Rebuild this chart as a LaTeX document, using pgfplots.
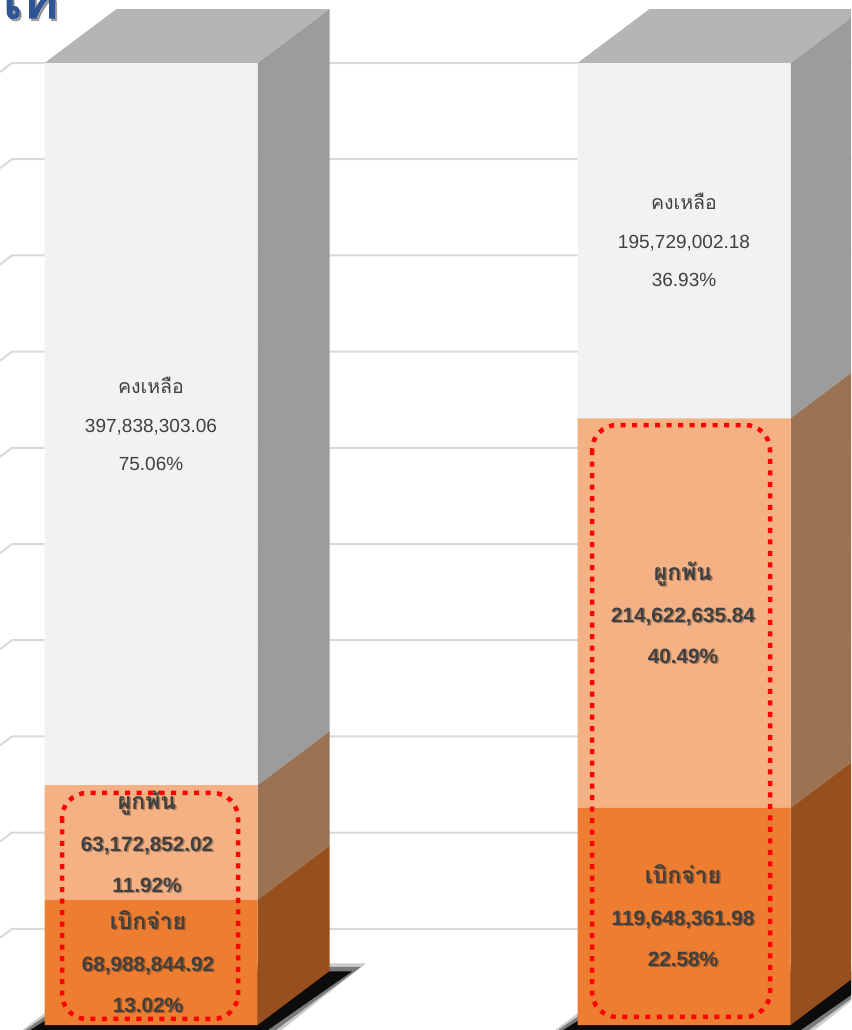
\documentclass[border=0pt]{standalone}
\usepackage{fontspec}
\setmainfont{Liberation Sans}
\newfontfamily\thai[Script=Thai]{Loma}
\newfontfamily\thaiheavy[Script=Thai, FakeBold=2.5]{Loma}
\usepackage{pgfplots}
\usepackage{pgfplotstable}
\pgfplotsset{compat=1.18}

\definecolor{remain}{HTML}{F2F2F2}
\definecolor{remainside}{HTML}{9C9C9C}
\definecolor{remaintop}{HTML}{B5B5B5}
\definecolor{commit}{HTML}{F4B183}
\definecolor{commitside}{HTML}{9B7252}
\definecolor{paid}{HTML}{ED7D31}
\definecolor{paidside}{HTML}{984F1E}
\definecolor{gridc}{HTML}{D9D9D9}
\definecolor{txt}{HTML}{404040}
\definecolor{titleblue}{HTML}{2F5597}

% values in million baht
\pgfplotstableread{
x   paid         commit       remain
151 68.98884492  63.17285202  397.83830306
684 119.64836198 214.62263584 195.72900218
}\budget

\pgfplotsset{base/.style={
  at={(0,0)}, anchor=south west,
  scale only axis, width=851pt, height=1030pt,
  xmin=0, xmax=851, ymin=-2.7547, ymax=564.7090,
  hide axis, clip=true}}

\tikzset{
  lbl/.style={text=txt, anchor=base, inner sep=0pt, font=\fontsize{19}{22}\selectfont},
  blbl/.style={text=txt, anchor=base, inner sep=0pt, font=\fontsize{20.7}{24}\selectfont\bfseries}}

\newcommand\normlabel[5]{%
  \node[lbl, yshift=31pt] at (axis cs:#1,#2) {\thai\fontsize{19.5}{22}\selectfont #3};
  \node[lbl, yshift=-8pt] at (axis cs:#1,#2) {#4};
  \node[lbl, yshift=-46pt] at (axis cs:#1,#2) {#5};}
\newcommand\bline[4]{%
  \node[blbl, text=black, opacity=.3, yshift=#3-1.5pt, xshift=1.5pt] at (axis cs:#1,#2) {#4};
  \node[blbl, yshift=#3] at (axis cs:#1,#2) {#4};}
\newcommand\boldlabel[5]{%
  \bline{#1}{#2}{33pt}{\thai\fontsize{23}{26}\selectfont #3}
  \bline{#1}{#2}{-9pt}{#4}
  \bline{#1}{#2}{-50pt}{#5}}

\begin{document}
\begin{tikzpicture}
\useasboundingbox (0,0) rectangle (851pt,1030pt);
\clip (0,0) rectangle (851pt,1030pt);

% background: gridlines, floor shadows, side and top faces
\begin{axis}[base]
\addplot[gridc, line width=2pt] coordinates {(0,48.04) (12,53) (851,53)};
\addplot[gridc, line width=2pt] coordinates {(0,101.04) (12,106) (851,106)};
\addplot[gridc, line width=2pt] coordinates {(0,154.04) (12,159) (851,159)};
\addplot[gridc, line width=2pt] coordinates {(0,207.04) (12,212) (851,212)};
\addplot[gridc, line width=2pt] coordinates {(0,260.04) (12,265) (851,265)};
\addplot[gridc, line width=2pt] coordinates {(0,313.04) (12,318) (851,318)};
\addplot[gridc, line width=2pt] coordinates {(0,366.04) (12,371) (851,371)};
\addplot[gridc, line width=2pt] coordinates {(0,419.04) (12,424) (851,424)};
\addplot[gridc, line width=2pt] coordinates {(0,472.04) (12,477) (851,477)};
\addplot[gridc, line width=2pt] coordinates {(0,525.04) (12,530) (851,530)};

% floor shadows
\addplot[fill=black, opacity=.2, draw=none] coordinates {(12,-7) (272,-7) (366,34) (112,34)} -- cycle;
\addplot[fill=black, opacity=.4, draw=none] coordinates {(17,-6) (268,-6) (361,32) (116,32)} -- cycle;
\addplot[fill=black, opacity=.9, draw=none] coordinates {(24,-5) (262,-5) (352,29.5) (122,29.5)} -- cycle;
\addplot[fill=black, opacity=.2, draw=none] coordinates {(545,-7) (805,-7) (899,34) (645,34)} -- cycle;
\addplot[fill=black, opacity=.4, draw=none] coordinates {(550,-6) (801,-6) (894,32) (649,32)} -- cycle;
\addplot[fill=black, opacity=.9, draw=none] coordinates {(557,-5) (795,-5) (885,29.5) (655,29.5)} -- cycle;

% side faces, left bar
\addplot[fill=paidside, draw=none] coordinates {(257.5,0) (329.5,29.75) (329.5,98.74) (257.5,68.99)} -- cycle;
\addplot[fill=commitside, draw=none] coordinates {(257.5,68.99) (329.5,98.74) (329.5,161.91) (257.5,132.16)} -- cycle;
\addplot[fill=remainside, draw=none] coordinates {(257.5,132.16) (329.5,161.91) (329.5,559.75) (257.5,530)} -- cycle;
\addplot[fill=remaintop, draw=none] coordinates {(44.5,530) (257.5,530) (329.5,559.75) (116.5,559.75)} -- cycle;
% side faces, right bar
\addplot[fill=paidside, draw=none] coordinates {(790.5,0) (862.5,29.75) (862.5,149.40) (790.5,119.65)} -- cycle;
\addplot[fill=commitside, draw=none] coordinates {(790.5,119.65) (862.5,149.40) (862.5,364.02) (790.5,334.27)} -- cycle;
\addplot[fill=remainside, draw=none] coordinates {(790.5,334.27) (862.5,364.02) (862.5,559.75) (790.5,530)} -- cycle;
\addplot[fill=remaintop, draw=none] coordinates {(577.5,530) (790.5,530) (862.5,559.75) (649.5,559.75)} -- cycle;

% title remnant
\node[anchor=base west, inner sep=0pt, text=black, opacity=.3, font=\fontsize{58}{60}\selectfont\thaiheavy] at (axis cs:-6,553.5) {ให};
\node[anchor=base west, inner sep=0pt, text=titleblue, font=\fontsize{58}{60}\selectfont\thaiheavy] at (axis cs:-8,554.8) {ให};
\end{axis}

% front faces
\begin{axis}[base, ybar stacked, bar width=213pt]
\addplot[fill=paid, draw=none] table[x=x, y=paid] {\budget};
\addplot[fill=commit, draw=none] table[x=x, y=commit] {\budget};
\addplot[fill=remain, draw=none] table[x=x, y=remain] {\budget};
\end{axis}

% labels and highlight boxes
\begin{axis}[base]
\normlabel{151}{331.08}{คงเหลือ}{397,838,303.06}{75.06\%}
\normlabel{684}{432.14}{คงเหลือ}{195,729,002.18}{36.93\%}
\boldlabel{147}{100.58}{ผูกพัน}{63,172,852.02}{11.92\%}
\boldlabel{148}{34.49}{เบิกจ่าย}{68,988,844.92}{13.02\%}
\boldlabel{683}{226.96}{ผูกพัน}{214,622,635.84}{40.49\%}
\boldlabel{683}{59.82}{เบิกจ่าย}{119,648,361.98}{22.58\%}

\draw[red, line width=4.5pt, dash pattern=on 5pt off 6.5pt, rounded corners=25pt]
  (axis cs:62,127.82) rectangle (axis cs:238,3.31);
\draw[red, line width=4.5pt, dash pattern=on 5pt off 6.5pt, rounded corners=25pt]
  (axis cs:592,330.56) rectangle (axis cs:770,4.41);
\end{axis}
\end{tikzpicture}
\end{document}
